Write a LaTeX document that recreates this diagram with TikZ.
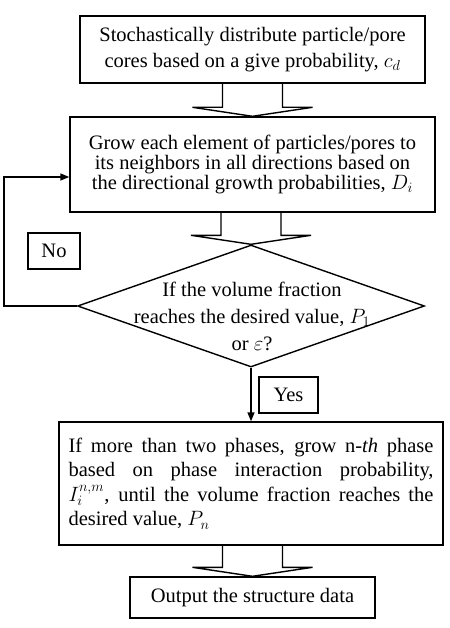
\documentclass[tikz,border=0pt]{standalone}
\usepackage{fontspec}
\setmainfont{Liberation Serif}
\usetikzlibrary{arrows.meta, positioning, calc, shapes.geometric}

\begin{document}
\begin{tikzpicture}[x=1pt, y=-1pt,
  box/.style={draw, line width=1.4pt, inner sep=0pt, font=\fontsize{20.5}{23}\selectfont},
  decision/.style={draw, diamond, line width=1.4pt, inner sep=0pt, minimum width=347pt, minimum height=122pt},
  flow/.style={line width=1.4pt, -{Triangle[length=9pt, width=7pt]}},
  hollow/.style={line width=1.4pt, line join=miter},
]
\useasboundingbox (0,0) rectangle (449,628);

\node[box, minimum width=345pt, minimum height=67pt, align=center, font=\fontsize{20.5}{26}\selectfont] (seed) at (252.5,49.5)
  {Stochastically distribute particle/pore\\ cores based on a give probability, $c_d$};
\node[box, minimum width=365pt, minimum height=95pt, align=center, font=\fontsize{20.5}{20}\selectfont] (grow) at (252.5,164.5)
  {Grow each element of particles/pores to\\ its neighbors in all directions based on\\ the directional growth probabilities, $D_i$};
\node[decision] (check) at (251,306) {};
\node[font=\fontsize{20.5}{27}\selectfont, align=center, inner sep=0pt] (checktext) at (252,316)
  {If the volume fraction\\ reaches the desired value, $P_1$\\ or $\varepsilon$?};
\node[box, minimum width=384pt, minimum height=123pt, text width=365pt, align=justify, font=\fontsize{20.5}{24.5}\selectfont] (phase) at (251,483.5)
  {If more than two phases, grow n-\textit{th} phase\linebreak based on phase interaction probability,\linebreak $I_i^{n,m}$, until the volume fraction reaches the\linebreak desired value, $P_n$};
\node[box, minimum width=245pt, minimum height=41pt] (output) at (252.5,597.5) {Output the structure data};

\node[box, minimum width=52pt, minimum height=36pt] (no) at (54,251) {No};
\node[box, minimum width=59pt, minimum height=36pt] (yes) at (288.5,395) {Yes};

% hollow block arrows between the steps
\foreach \from/\to in {seed/grow, grow/check, phase/output}
  \draw[hollow] ($(\from.south -| \to.north)+(-30,0)$) -- ($(\to.north)+(-30,-9)$)
    -- ($(\to.north)+(-60,-9)$) -- (\to.north) -- ($(\to.north)+(60,-9)$)
    -- ($(\to.north)+(30,-9)$) -- ($(\from.south -| \to.north)+(30,0)$);

% loop back and exit
\coordinate (loop) at (4,177);
\draw[flow] (check.west) -| (loop) -- (loop -| grow.west);
\draw[flow] (check.south) -- (check.south |- phase.north);
\end{tikzpicture}
\end{document}
